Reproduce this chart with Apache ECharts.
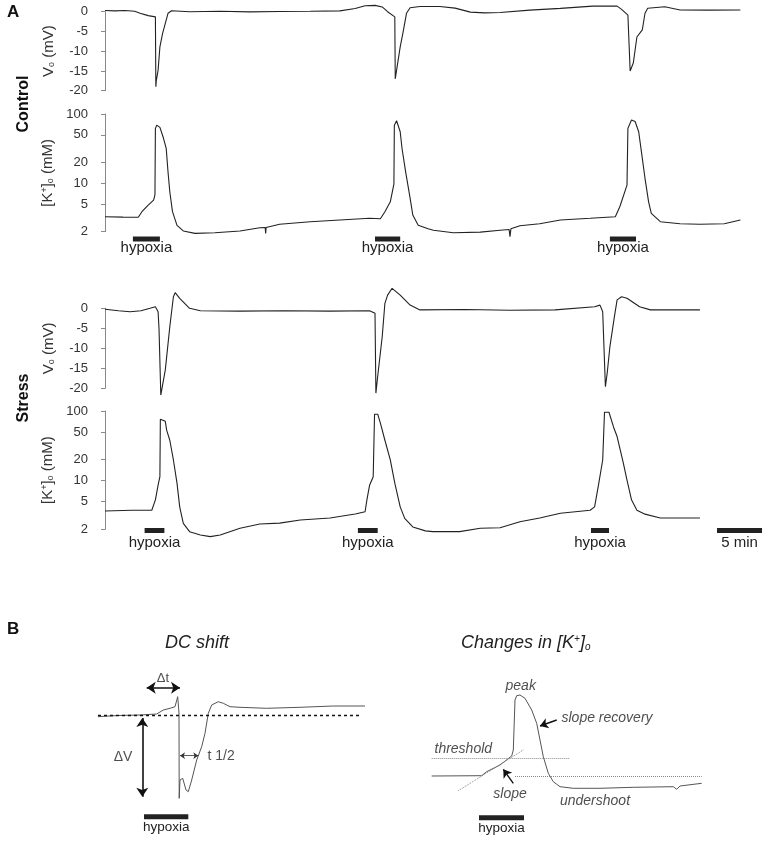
<!DOCTYPE html>
<html>
<head>
<meta charset="utf-8">
<script src="https://cdn.jsdelivr.net/npm/echarts@6/dist/echarts.min.js"></script>
<style>
  html, body { margin: 0; background: #fff; }
  #chart { width: 768px; height: 843px; }
</style>
</head>
<body>
<div id="chart"></div>
<script>
// time in minutes, Vo in mV, [K+]o in mM
const ctrlVo = [[0,0.3],[1.1,0.2],[2.2,0.3],[3.3,0.1],[3.9,-0.4],[4.8,-1.0],[5.6,-1.3],[5.65,-19.0],[5.7,-17.5],[5.9,-14.8],
  [6.1,-8.9],[6.4,-5.5],[7.0,-0.4],[7.4,0.25],[9.4,0.0],[12.8,0.1],[16.1,-0.05],[19.4,0.05],[22.8,0.1],[26.1,0.2],
  [27.8,0.8],[28.9,1.5],[30.0,1.6],[30.8,1.2],[31.4,0.0],[32.2,-1.3],[32.25,-17.0],[32.3,-16.8],[32.4,-14.8],[32.8,-8.9],
  [33.1,-5.4],[33.5,-0.4],[33.9,1.0],[35.0,1.3],[37.2,1.3],[38.9,0.9],[40.6,-0.1],[42.2,-0.3],[43.9,-0.2],[47.2,0.4],
  [50.6,0.85],[54.2,1.4],[56.9,1.4],[57.4,0.6],[58.1,-0.85],[58.3,-1.2],[58.35,-15.0],[58.4,-14.8],[58.7,-13.0],[59.1,-6.4],
  [59.7,-4.6],[60.0,-0.4],[60.3,0.86],[62.2,1.27],[63.9,0.43],[67.0,0.4],[70.6,0.43]];

const ctrlK = [[0,3.29],[2,3.25],[3.7,3.24],[4.1,3.89],[4.8,4.85],[5.4,5.7],[5.55,6.8],[5.6,62],[5.75,69],[6.1,64],
  [6.5,44.6],[6.8,32],[7.0,14.7],[7.2,7.55],[7.5,3.89],[8.0,2.47],[8.7,2.05],[10.0,1.89],[12.2,1.93],[15.0,2.05],
  [17.2,2.28],[17.8,2.3],[17.85,1.89],[17.9,2.3],[19.4,2.56],[22.8,2.79],[26.1,2.95],[29.4,3.12],[30.6,3.07],[31.1,3.89],
  [31.7,5.4],[32.1,9.7],[32.15,69],[32.4,80],[32.8,55.5],[33.0,32],[33.4,14.7],[33.9,6.1],[34.2,3.48],[34.8,2.47],
  [35.9,2.2],[36.5,2.1],[38.7,1.93],[41.7,1.97],[43.9,2.1],[44.9,2.15],[45.0,1.7],[45.1,2.2],[46.1,2.44],[48.3,2.61],
  [50.6,2.95],[53.9,3.12],[56.7,3.29],[57.2,4.58],[58.0,9.4],[58.1,62],[58.5,82],[58.9,78],[59.3,55.5],[59.6,28.6],
  [60.0,11.8],[60.4,5.4],[60.7,3.68],[61.7,2.79],[63.9,2.61],[66.1,2.56],[68.8,2.6],[68.9,2.45],[69.0,2.6],[70.6,2.95]];

const stressVo = [[0,-0.25],[1.5,-0.6],[2.8,-0.85],[4.0,-0.6],[5.0,0],[5.6,0.4],[5.9,-0.85],[6.0,-5],[6.2,-21.7],[6.7,-15.4],
  [7.2,-4.6],[7.6,2.9],[7.8,3.9],[8.3,2.5],[9.4,0],[10.6,-0.6],[15,-0.7],[20,-0.6],[25,-0.7],[29.4,-0.6],
  [30.0,-1.25],[30.1,-21.2],[30.3,-17],[30.8,-7.1],[31.1,1.25],[31.4,3.3],[31.9,5.0],[32.8,3.3],[33.9,0.8],[35.0,-0.4],
  [40,-0.3],[45,-0.5],[50,-0.4],[54.4,0.4],[55.0,0.8],[55.3,-0.85],[55.6,-19.6],[55.8,-16.2],[56.1,-9.6],[56.6,-2.1],
  [56.9,2.1],[57.4,2.9],[58.0,2.5],[59.4,0.4],[60.6,-0.4],[66.1,-0.4]];

const stressK = [[0,3.66],[1,3.7],[3,3.75],[5.2,3.76],[5.6,5.3],[5.9,8.6],[6.1,11.4],[6.15,76],[6.3,76],[6.7,71],
  [6.85,53],[7.2,38],[7.6,19.8],[8.0,9.2],[8.3,4.2],[8.7,2.43],[9.4,1.85],[10.6,1.66],[11.7,1.57],[12.8,1.66],
  [15.0,2.07],[17.2,2.38],[19.4,2.45],[21.7,2.72],[25.0,2.9],[27.8,3.32],[28.9,3.57],[29.1,5.3],[29.4,8.6],[29.8,11.4],
  [29.95,90],[30.3,90],[30.6,67],[31.1,38],[31.7,19.8],[32.2,9.2],[32.8,4.2],[33.3,2.87],[34.2,2.16],[35.6,1.9],
  [36.4,1.85],[39.4,1.85],[41.7,2.07],[43.9,2.1],[46.1,2.57],[48.3,2.9],[50.6,3.4],[53.9,3.76],[54.4,4.2],[54.8,8.2],
  [55.3,19.8],[55.5,96],[56.0,96],[56.5,59],[56.9,43],[57.6,17.7],[58.0,10.2],[58.5,5.3],[59.1,3.76],[60.0,3.3],
  [61.7,2.9],[66.1,2.9]];

// hypoxia periods [start, end] in minutes
const hypoxiaCtrl = [[3.1,6.1],[30.0,32.8],[56.1,59.0]];
const hypoxiaStress = [[4.4,6.6],[28.1,30.3],[54.0,56.0]];
const scaleBar = [[68.0,73.0]];

const voTicks = [0,-5,-10,-15,-20];
const kTicks = [2,5,10,20,50,100];

// panel B schematic traces (arbitrary units)
const dcTrace = [[0,-1.7],[20,-0.5],[42,0],[58.7,1],[65.3,5],[72,6.7],[77,8.3],[79.7,18.3],[81,2],[81.2,-83.3],
  [82,-65],[84.7,-63.3],[88,-75],[90.3,-76.7],[93.7,-65],[98.7,-45],[103.7,-31.7],[107,-18.3],[110.3,1.7],[113.7,10],
  [120.3,13.3],[125.3,11.7],[132,8.3],[142,7.7],[168.7,6.7],[202,7.7],[235.3,9],[267,9]];
const kTrace = [[0.7,4],[50.7,4.3],[55.7,8.3],[69,15],[80.7,24],[82.3,30],[84,80],[85.7,84.3],[89,85],[94,81.7],
  [100.7,70],[105.7,56.7],[109,40],[112.3,23.3],[117.3,6.7],[122.3,-1.7],[129,-6.7],[142.3,-8.3],[169,-8.3],[202.3,-7.3],
  [242.3,-6.7],[245.7,-9.3],[249,-6],[270.7,-3.3]];
const dcHypoxia = [[46,90.3]];
const kHypoxia = [[48,93]];

const FONT = '"Liberation Sans", Arial, sans-serif';
const chart = echarts.init(document.getElementById('chart'));

const gridsPx = [
  {left: 105, top: 11.7, width: 657, height: 79},   // control Vo
  {left: 105, top: 114, width: 657, height: 117.7}, // control K
  {left: 105, top: 236, width: 657, height: 6},     // control hypoxia bars
  {left: 105, top: 308.3, width: 657, height: 80},  // stress Vo
  {left: 105, top: 411, width: 657, height: 118.3}, // stress K
  {left: 105, top: 527.5, width: 657, height: 6},   // stress bars
  {left: 98, top: 670, width: 267, height: 150},    // B dc shift
  {left: 431, top: 670, width: 271, height: 150}    // B K changes
];

const hiddenX = i => ({gridIndex: i, type: 'value', min: 0, max: 73, show: false});
const hiddenY = (i, min, max) => ({gridIndex: i, type: 'value', min: min, max: max, show: false});

const log10 = v => Math.log10(v);
const axisStyle = {
  position: 'left', offset: 11,
  axisLine: {show: true, lineStyle: {color: '#888', width: 1}},
  axisTick: {show: true, length: 4, inside: false, lineStyle: {color: '#888'}},
  splitLine: {show: false},
  nameLocation: 'middle', nameGap: 38,
  nameTextStyle: {
    fontSize: 15, color: '#333', fontFamily: FONT,
    rich: {
      sub: {fontSize: 9, verticalAlign: 'bottom', color: '#333', fontFamily: FONT, padding: [6, 0, 0, 0]},
      sup: {fontSize: 9, verticalAlign: 'top', color: '#333', fontFamily: FONT, padding: [0, 0, 5, 0]}
    }
  }
};
function voAxis(i) {
  return Object.assign({}, axisStyle, {
    gridIndex: i, type: 'value', min: -20, max: 0, interval: 5, name: 'V{sub|o} (mV)',
    axisLabel: {fontSize: 13, color: '#333', margin: 6, fontFamily: FONT, customValues: voTicks}
  });
}
function kAxis(i) {
  return Object.assign({}, axisStyle, {
    gridIndex: i, type: 'value', min: log10(2), max: 2, name: '[K{sup|+}]{sub|o} (mM)',
    axisTick: Object.assign({}, axisStyle.axisTick, {customValues: kTicks.map(log10)}),
    axisLabel: {fontSize: 13, color: '#333', margin: 6, fontFamily: FONT, customValues: kTicks.map(log10),
      formatter: v => String(Math.round(Math.pow(10, v)))}
  });
}

function trace(i, data, color, width) {
  return {type: 'line', xAxisIndex: i, yAxisIndex: i, data: data, showSymbol: false, symbol: 'none', clip: false,
    lineStyle: {color: color || '#222', width: width || 1.1}, silent: true};
}
function bars(i, data, y, label, gap, fontSize) {
  return {
    type: 'custom', xAxisIndex: i, yAxisIndex: i, clip: false, silent: true,
    data: data.map(d => [d[0], d[1], y]),
    encode: {x: [0, 1], y: 2},
    renderItem: (params, api) => {
      const a = api.coord([api.value(0), api.value(2)]);
      const b = api.coord([api.value(1), api.value(2)]);
      return {type: 'group', children: [
        {type: 'rect', shape: {x: a[0], y: a[1] - 2.5, width: b[0] - a[0], height: 5}, style: {fill: '#222'}},
        {type: 'text', x: (a[0] + b[0]) / 2, y: a[1] + gap,
          style: {text: label, fill: '#222', font: fontSize + 'px ' + FONT, align: 'center', verticalAlign: 'top'}}
      ]};
    }
  };
}
function seg(a, b, s1, s2, style, size) {
  return [{coord: a, symbol: s1, symbolSize: size || 9, lineStyle: style},
          {coord: b, symbol: s2, symbolSize: size || 9, lineStyle: style}];
}
function notes(i, items) {
  return {
    type: 'scatter', xAxisIndex: i, yAxisIndex: i, symbolSize: 1, itemStyle: {color: 'transparent'}, silent: true,
    data: items.map(n => ({name: n[0], value: [n[1], n[2]],
      label: {show: true, formatter: '{b}', position: n[3] || 'inside', distance: 0, color: '#222',
        fontSize: n[5] || 14, fontStyle: n[4] ? 'italic' : 'normal', fontFamily: FONT}}))
  };
}

const option = {
  animation: false,
  backgroundColor: '#fff',
  textStyle: {fontFamily: FONT},
  grid: gridsPx.map(g => Object.assign({outerBoundsMode: 'none', containLabel: false}, g)),
  xAxis: [hiddenX(0), hiddenX(1), hiddenX(2), hiddenX(3), hiddenX(4), hiddenX(5),
    {gridIndex: 6, type: 'value', min: 0, max: 267, show: false},
    {gridIndex: 7, type: 'value', min: 0, max: 271, show: false}],
  yAxis: [voAxis(0), kAxis(1), hiddenY(2, 0, 1), voAxis(3), kAxis(4), hiddenY(5, 0, 1),
    hiddenY(6, -105, 45), hiddenY(7, -40, 110)],
  series: [
    trace(0, ctrlVo),
    trace(1, ctrlK.map(p => [p[0], log10(p[1])])),
    bars(2, hypoxiaCtrl, 0.5, 'hypoxia', 1, 15),
    trace(3, stressVo),
    trace(4, stressK.map(p => [p[0], log10(p[1])])),
    bars(5, hypoxiaStress, 0.5, 'hypoxia', 5, 15),
    bars(5, scaleBar, 0.5, '5 min', 5, 15),
    Object.assign(trace(6, dcTrace, '#555', 1), {
      markLine: {silent: true, animation: false, label: {show: false}, data: [
        seg([0, 0], [264, 0], 'none', 'none', {type: [3, 3], color: '#111', width: 1.4}),
        seg([48.7, 27.3], [82, 27.3], 'arrow', 'arrow', {type: 'solid', color: '#111', width: 1.6}),
        seg([44.3, -3], [44.3, -81.7], 'arrow', 'arrow', {type: 'solid', color: '#111', width: 1.6}),
        seg([82, -40.7], [100.3, -40.7], 'arrow', 'arrow', {type: 'solid', color: '#333', width: 0.8}, 5)
      ]}
    }),
    bars(6, dcHypoxia, -101.7, 'hypoxia', 4, 13.5),
    notes(6, [['Δt', 65, 37, 'inside', false, 13], ['ΔV', 25, -42], ['t 1/2', 109, -40.7, 'right']]),
    Object.assign(trace(7, kTrace, '#555', 1), {
      markLine: {silent: true, animation: false, label: {show: false}, data: [
        seg([0.7, 21.7], [139, 21.7], 'none', 'none', {type: 'dotted', color: '#888', width: 1}),
        seg([84, 3.3], [270.7, 3.3], 'none', 'none', {type: 'dotted', color: '#888', width: 1}),
        seg([27.3, -10.7], [92.3, 30], 'none', 'none', {type: 'dotted', color: '#888', width: 1}),
        seg([125.7, 60], [109, 54], 'none', 'arrow', {type: 'solid', color: '#111', width: 1.4}, 8),
        seg([82.3, -3.3], [72.3, 10.7], 'none', 'arrow', {type: 'solid', color: '#111', width: 1.4}, 8)
      ]}
    }),
    bars(7, kHypoxia, -37.7, 'hypoxia', 4, 13.5),
    notes(7, [['peak', 89.7, 94, 'inside', true], ['slope recovery', 130, 61.7, 'right', true],
      ['threshold', 3, 30.7, 'right', true], ['slope', 79, -14, 'inside', true], ['undershoot', 164, -20.7, 'inside', true]])
  ],
  graphic: [
    {type: 'text', x: 7, y: 12, style: {text: 'A', font: 'bold 17px ' + FONT, fill: '#111', verticalAlign: 'middle'}},
    {type: 'text', x: 24, y: 104, rotation: Math.PI / 2,
      style: {text: 'Control', font: 'bold 16px ' + FONT, fill: '#111', align: 'center', verticalAlign: 'middle'}},
    {type: 'text', x: 24, y: 398, rotation: Math.PI / 2,
      style: {text: 'Stress', font: 'bold 16px ' + FONT, fill: '#111', align: 'center', verticalAlign: 'middle'}},
    {type: 'text', x: 7, y: 629, style: {text: 'B', font: 'bold 17px ' + FONT, fill: '#111', verticalAlign: 'middle'}},
    {type: 'text', x: 197, y: 643,
      style: {text: 'DC shift', font: 'italic 18px ' + FONT, fill: '#222', align: 'center', verticalAlign: 'middle'}},
    {type: 'text', x: 461, y: 643,
      style: {text: 'Changes in [K{sup|+}]{sub|o}', font: 'italic 18px ' + FONT, fill: '#222', verticalAlign: 'middle',
        rich: {
          sup: {font: 'italic 10px ' + FONT, fill: '#222', verticalAlign: 'top', padding: [0, 0, 6, 0]},
          sub: {font: 'italic 10px ' + FONT, fill: '#222', verticalAlign: 'bottom', padding: [8, 0, 0, 0]}
        }}}
  ]
};
chart.setOption(option);
</script>
</body>
</html>
